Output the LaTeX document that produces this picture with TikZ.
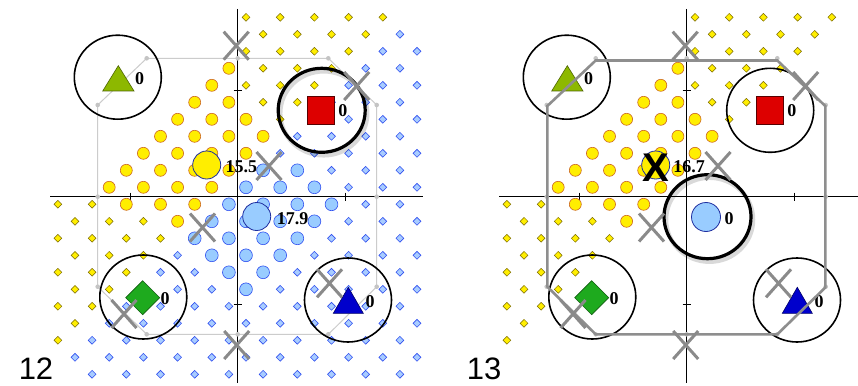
\documentclass[tikz,border=0pt]{standalone}
\usepackage{fontspec}
\setmainfont{Liberation Serif}
\newfontfamily\sansfam{Liberation Sans}
\definecolor{ydot}{HTML}{FFEE00}
\definecolor{ydotline}{HTML}{7A6A00}
\definecolor{odotline}{HTML}{CC6622}
\definecolor{bdot}{HTML}{A8CCFF}
\definecolor{bdotline}{HTML}{3050F0}
\definecolor{ldot}{HTML}{99CCFF}
\definecolor{cline}{HTML}{1F2FA0}
\definecolor{xgray}{HTML}{8A8A8A}
\definecolor{octlight}{HTML}{CCCCCC}
\definecolor{octdark}{HTML}{8E8E8E}
\definecolor{octdotc}{HTML}{C4C4C4}
\definecolor{gtri}{HTML}{8DB800}
\definecolor{gdia}{HTML}{1EAA1E}
\definecolor{rsq}{HTML}{DD0000}
\definecolor{btri}{HTML}{0000CC}
\tikzset{
 axisline/.style={draw=black, line width=0.9pt},
 smallY/.style={fill=ydot, draw=ydotline, line width=0.5pt},
 bigY/.style={fill=ydot, draw=odotline, line width=0.6pt},
 smallB/.style={fill=bdot, draw=bdotline, line width=0.6pt},
 bigB/.style={fill=ldot, draw=bdotline, line width=0.6pt},
 ring/.style={draw=black, line width=1.6pt},
 thickring/.style={draw=black, line width=3.2pt},
 ringshadow/.style={draw=black, opacity=0.15, line width=4.5pt},
 xmark/.style={draw=xgray, line width=3pt},
 octlightline/.style={draw=octlight, line width=1pt},
 octdarkline/.style={draw=octdark, line width=2.6pt},
 centroidY/.style={fill=ydot, draw=cline, line width=0.8pt},
 centroidB/.style={fill=ldot, draw=cline, line width=0.8pt},
 numlabel/.style={font=\bfseries\fontsize{18}{18}\selectfont, inner sep=0pt},
 panellabel/.style={font=\sansfam\fontsize{31}{31}\selectfont, inner sep=0pt},
 bigx/.style={font=\sansfam\bfseries\fontsize{40}{40}\selectfont, inner sep=0pt},
}
\newcommand\mydot[3]{%
 \pgfmathtruncatemacro\pp{mod(#1+#2,2)}%
 \ifnum\pp=1\relax
  \pgfmathsetmacro\uu{#1-10.5}%
  \pgfmathsetmacro\vv{10.5-#2}%
  \pgfmathtruncatemacro\okk{abs((\uu)+(\vv))<20 ? 1 : 0}%
  \ifnum\okk=1\relax
   \pgfmathtruncatemacro\isY{((\vv)-(\uu))>0.7 ? 1 : 0}%
   \pgfmathsetmacro\da{min(veclen((\uu)+7,(\vv)-7),veclen((\uu)-4.9,(\vv)-5.0),veclen((\uu)+5.53,(\vv)+5.98),veclen((\uu)-6.46,(\vv)+6.13))}%
   \ifnum\isY=1\relax
     \pgfmathsetmacro\dc{veclen((\uu)+1.8,(\vv)-1.81)}%
   \else
     \pgfmathsetmacro\dc{veclen((\uu)-1.12,(\vv)+1.19)}%
   \fi
   \pgfmathtruncatemacro\isBig{(\dc)<((\da)+0.08) ? 1 : 0}%
   \pgfmathtruncatemacro\inUL{and((\uu)<0,(\vv)>0) ? 1 : 0}%
   \pgfmathsetmacro\px{57.9+17.1*#1}%
   \pgfmathsetmacro\py{17.3+17*#2}%
   \ifnum\isY=1\relax
     \ifnum\isBig=1\relax
       \path[bigY] (\px,\py) circle (6pt);
     \else
       \ifnum\inUL=0\relax
         \path[smallY] (\px,\py) +(0,-3.9) -- +(3.9,0) -- +(0,3.9) -- +(-3.9,0) -- cycle;
       \fi
     \fi
   \else
     \ifnum#3=1\relax
       \ifnum\isBig=1\relax
         \path[bigB] (\px,\py) circle (6.4pt);
       \else
         \path[smallB] (\px,\py) +(0,-3.9) -- +(3.9,0) -- +(0,3.9) -- +(-3.9,0) -- cycle;
       \fi
     \fi
   \fi
  \fi
 \fi}
\newcommand\dotfield[1]{%
 \foreach \rr in {0,...,21}{%
  \foreach \kk in {0,...,21}{%
   \mydot{\kk}{\rr}{#1}%
  }%
 }%
}
\newcommand\myaxes{%
 \draw[axisline] (237.7,9) -- (237.7,382.5);
 \draw[axisline] (50,196.7) -- (423,196.7);
 \draw[axisline] (233.7,90.7) -- (241.7,90.7) (233.7,304) -- (241.7,304)
   (130,192.7) -- (130,200.7) (345,192.7) -- (345,200.7);
}
\newcommand\octdots{%
 \foreach \ox/\oy in {146.7/58.3,237.7/58.3,328.3/58.3,376.7/105,376.7/196.7,376.7/286.7,328.3/334.3,237.7/334.3,146.7/334.3,97.7/286.7,97.7/196.7,97.7/105}{%
  \fill[octdotc] (\ox,\oy) circle (2.3pt);
 }%
}
\newcommand\anchorshapes{%
 \filldraw[fill=gtri, draw=black!45!gtri, line width=0.6pt] (102.7,91) -- (118.3,65.7) -- (134,91) -- cycle;
 \filldraw[fill=rsq, draw=black!60!rsq, line width=0.8pt] (307.3,96.7) rectangle (334.3,124.3);
 \filldraw[fill=gdia, draw=black!45!gdia, line width=0.6pt] (142.7,280.7) -- (159.7,297.7) -- (142.7,314.7) -- (125.7,297.7) -- cycle;
 \filldraw[fill=btri, draw=black!50!btri, line width=0.6pt] (333.3,313.3) -- (348.3,287.3) -- (363.3,313.3) -- cycle;
 \node[numlabel] (z1) at (139.5,79) {0};
 \node[numlabel] (z2) at (342.8,110.5) {0};
 \node[numlabel] (z3) at (165,298.3) {0};
 \node[numlabel] (z4) at (370,301.7) {0};
}
\newcommand\gx[2]{%
 \draw[xmark] (#1-12.5,#2-14) -- (#1+12.5,#2+14) (#1-12.5,#2+14) -- (#1+12.5,#2-14);
}
\newcommand\xmarks{%
 \gx{236.2}{45.7}\gx{356.7}{86}\gx{269}{166}\gx{202.5}{227.5}%
 \gx{124}{314}\gx{329.5}{283.3}\gx{236.7}{345}%
}
\begin{document}
\begin{tikzpicture}[x=1pt,y=-1pt]
\useasboundingbox (0,0) rectangle (858,385);
\fill[white] (0,0) rectangle (858,385);
% ---------------- panel 12 ----------------
\myaxes
\dotfield{1}
\draw[octlightline] (146.7,58.3) -- (328.3,58.3) -- (376.7,105) -- (376.7,286.7) -- (328.3,334.3) -- (146.7,334.3) -- (97.7,286.7) -- (97.7,105) -- cycle;
\octdots
\anchorshapes
\draw[ring] (117.8,77.2) ellipse [x radius=43.5pt, y radius=42pt];
\draw[ringshadow] (323.7,113.3) ellipse [x radius=43.5pt, y radius=42pt];
\draw[thickring] (321.7,110.3) ellipse [x radius=43.5pt, y radius=42pt];
\draw[ring] (143.3,297) ellipse [x radius=43.5pt, y radius=42pt];
\draw[ring] (348,300) ellipse [x radius=43.5pt, y radius=42pt];
\path[centroidY] (206.7,165) circle (14pt);
\path[centroidB] (256.7,216.5) circle (14pt);
\xmarks
\node[numlabel] (a155) at (241.3,166.7) {15.5};
\node[numlabel] (a179) at (292.5,219) {17.9};
\node[panellabel] (p12) at (36,369) {12};
% ---------------- panel 13 ----------------
\begin{scope}[xshift=449pt]
\myaxes
\dotfield{0}
\octdots
\anchorshapes
\draw[ring] (117.8,77.2) ellipse [x radius=43.5pt, y radius=42pt];
\draw[ring] (321.2,110.3) ellipse [x radius=43.5pt, y radius=42pt];
\draw[ring] (143.3,297) ellipse [x radius=43.5pt, y radius=42pt];
\draw[ring] (348,300) ellipse [x radius=43.5pt, y radius=42pt];
\draw[octdarkline] (146.7,60.5) -- (328.3,60.5) -- (376.3,106) -- (376.3,287.5) -- (328.3,334.3) -- (146.7,334.3) -- (98.3,286.7) -- (98.3,106) -- cycle;
\path[centroidY] (206.7,165) circle (14pt);
\path[centroidB] (257,217) circle (14.5pt);
\draw[ringshadow] (260.5,219.7) ellipse [x radius=43.5pt, y radius=42pt];
\draw[thickring] (258.5,216.7) ellipse [x radius=43.5pt, y radius=42pt];
\xmarks
\node[bigx] (bx) at (206.5,168) {X};
\node[numlabel] (a167) at (240,166.7) {16.7};
\node[numlabel] (a0c) at (280,218.5) {0};
\node[panellabel] (p13) at (35,369) {13};
\end{scope}
\end{tikzpicture}
\end{document}
